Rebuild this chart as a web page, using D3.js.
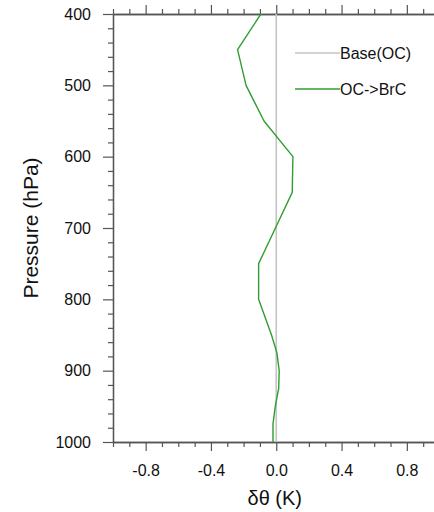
<!DOCTYPE html>
<html>
<head>
<meta charset="utf-8">
<script src="https://cdn.jsdelivr.net/npm/d3@7"></script>
<style>
  html, body { margin: 0; padding: 0; background: #fff; }
  svg { display: block; font-family: "Liberation Sans", Arial, Helvetica, sans-serif; }
</style>
</head>
<body>
<svg id="chart" width="434" height="512"></svg>
<script>
// ---- data ----
const pressureLevels = [400, 450, 500, 550, 600, 650, 700, 750, 800, 850, 875, 900, 925, 950, 975, 1000];
const baseValues     = [0, 0, 0, 0, 0, 0, 0, 0, 0, 0, 0, 0, 0, 0, 0, 0];
const brcValues      = [-0.094, -0.237, -0.185, -0.075, 0.102, 0.098, -0.005, -0.108, -0.108, -0.029, 0.004, 0.018, 0.015, -0.006, -0.02, -0.02];
const seriesNames    = ["Base(OC)", "OC->BrC"];
const xMajorTicks    = [-0.8, -0.4, 0.0, 0.4, 0.8];
const yMajorTicks    = [400, 500, 600, 700, 800, 900, 1000];
const xLabel = "δθ (K)";
const yLabel = "Pressure (hPa)";

// ---- layout ----
const svg = d3.select("#chart");
const pL = 113, pR = 439.5, pT = 14, pB = 442;
const x = d3.scaleLinear().domain([-1, 1]).range([pL, pR]);
const y = d3.scaleLinear().domain([400, 1000]).range([pT, pB]);
const axisColor = "#555";
const green = "#2f9e2f";
const gray = "#c4c4c4";

const xMinor = d3.range(-10, 11).map(d => d / 10).filter(v => !xMajorTicks.some(m => Math.abs(m - v) < 1e-9));
const yMinor = d3.range(400, 1001, 20).filter(v => v % 100 !== 0);

function styleAxis(g) {
  g.select(".domain").attr("stroke", axisColor).attr("stroke-width", 1.3);
  g.selectAll(".tick line").attr("stroke", axisColor).attr("stroke-width", 1.2);
  g.selectAll(".tick text").attr("fill", "#111").style("font-size", "16px")
    .style("font-family", "'Liberation Sans', Arial, Helvetica, sans-serif");
}

// bottom axis
svg.append("g").attr("transform", `translate(0,${pB})`)
  .call(d3.axisBottom(x).tickValues(xMajorTicks).tickFormat(d => d.toFixed(1)).tickSize(9).tickPadding(14).tickSizeOuter(0))
  .call(styleAxis);
svg.append("g").attr("transform", `translate(0,${pB})`)
  .call(d3.axisBottom(x).tickValues(xMinor).tickFormat("").tickSize(5).tickSizeOuter(0))
  .call(styleAxis);
// top axis
svg.append("g").attr("transform", `translate(0,${pT})`)
  .call(d3.axisTop(x).tickValues(xMajorTicks).tickFormat("").tickSize(9).tickSizeOuter(0))
  .call(styleAxis);
svg.append("g").attr("transform", `translate(0,${pT})`)
  .call(d3.axisTop(x).tickValues(xMinor).tickFormat("").tickSize(5).tickSizeOuter(0))
  .call(styleAxis);
// left axis
svg.append("g").attr("transform", `translate(${pL},0)`)
  .call(d3.axisLeft(y).tickValues(yMajorTicks).tickFormat(d3.format("d")).tickSize(10).tickPadding(12).tickSizeOuter(0))
  .call(styleAxis);
svg.append("g").attr("transform", `translate(${pL},0)`)
  .call(d3.axisLeft(y).tickValues(yMinor).tickFormat("").tickSize(5).tickSizeOuter(0))
  .call(styleAxis);
// right frame
svg.append("g").attr("transform", `translate(${pR},0)`)
  .call(d3.axisRight(y).tickValues([]).tickSizeOuter(0))
  .call(styleAxis);

// lines
const line = d3.line().x(d => x(d[1])).y(d => y(d[0]));
svg.append("path")
  .datum(pressureLevels.map((p, i) => [p, baseValues[i]]))
  .attr("d", line).attr("fill", "none").attr("stroke", gray).attr("stroke-width", 1.6);
svg.append("path")
  .datum(pressureLevels.map((p, i) => [p, brcValues[i]]))
  .attr("d", line).attr("fill", "none").attr("stroke", green).attr("stroke-width", 1.4)
  .attr("stroke-linejoin", "round");

// legend
const legend = [
  { name: seriesNames[0], color: gray, y: 53 },
  { name: seriesNames[1], color: green, y: 89 }
];
const lg = svg.append("g");
legend.forEach(l => {
  lg.append("line").attr("x1", 295).attr("x2", 340).attr("y1", l.y).attr("y2", l.y)
    .attr("stroke", l.color).attr("stroke-width", 1.4);
  lg.append("text").attr("x", 340).attr("y", l.y).attr("dy", "0.35em")
    .style("font-size", "16px").attr("fill", "#111").text(l.name);
});

// axis titles
svg.append("text").attr("x", (pL + pR) / 2 - 1.5).attr("y", 505)
  .attr("text-anchor", "middle").style("font-size", "20px").attr("fill", "#111").text(xLabel);
svg.append("text").attr("transform", `translate(38,${(pT + pB) / 2}) rotate(-90)`)
  .attr("text-anchor", "middle").style("font-size", "21px").attr("fill", "#111").text(yLabel);
</script>
</body>
</html>
